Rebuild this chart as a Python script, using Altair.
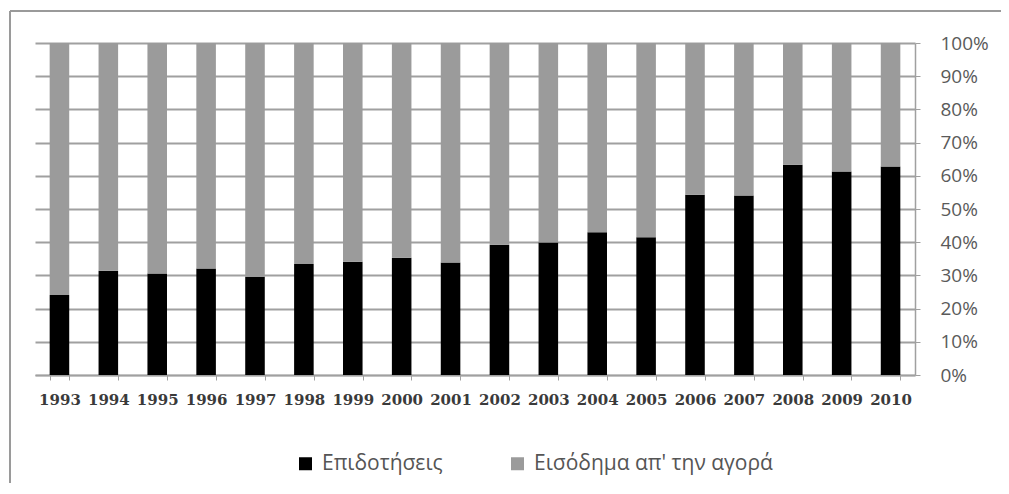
import altair as alt
import pandas as pd

years = ["1993", "1994", "1995", "1996", "1997", "1998", "1999", "2000", "2001",
         "2002", "2003", "2004", "2005", "2006", "2007", "2008", "2009", "2010"]
subsidies = [24.1, 31.4, 30.6, 32.1, 29.6, 33.4, 34.1, 35.3, 33.9,
             39.2, 39.9, 43.0, 41.5, 54.3, 54.1, 63.3, 61.3, 62.8]
market = [round(100 - s, 1) for s in subsidies]

series = ["Επιδοτήσεις", "Εισόδημα απ' την αγορά"]
colors = ["#000000", "#9b9b9b"]

rows = []
for y, s, m in zip(years, subsidies, market):
    rows.append({"year": y, "series": series[0], "value": s, "ord": 0})
    rows.append({"year": y, "series": series[1], "value": m, "ord": 1})
df = pd.DataFrame(rows)

bars = alt.Chart(df).mark_bar().encode(
    x=alt.X("year:N", sort=years,
            scale=alt.Scale(paddingInner=0.6, paddingOuter=0.3),
            axis=alt.Axis(title=None, labelAngle=0, labelFont="DejaVu Serif",
                          labelFontSize=15, labelFontWeight="bold",
                          labelColor="#3a3a3a",
                          domainColor="#a0a0a0", domainWidth=1.5,
                          tickColor="#a0a0a0", tickSize=5, tickBand="extent",
                          labelPadding=12, grid=False)),
    y=alt.Y("value:Q", stack="normalize",
            scale=alt.Scale(domain=[0, 1]),
            axis=alt.Axis(title=None, orient="right", format=".0%",
                          values=[0, 0.1, 0.2, 0.3, 0.4, 0.5, 0.6, 0.7, 0.8, 0.9, 1.0],
                          labelFont="Open Sans", labelFontSize=19,
                          labelColor="#5a5a5a", labelPadding=20,
                          domain=True, domainColor="#a0a0a0", domainWidth=1.5,
                          tickColor="#a0a0a0", tickSize=5,
                          grid=True, gridColor="#a0a0a0", gridWidth=2)),
    color=alt.Color("series:N", sort=series,
                    scale=alt.Scale(domain=series, range=colors),
                    legend=alt.Legend(title=None, orient="none", direction="horizontal",
                                      legendX=260, legendY=410,
                                      symbolType="square", symbolSize=169,
                                      symbolStrokeWidth=0,
                                      labelFont="Open Sans", labelFontSize=21,
                                      labelColor="#555555", labelOffset=6,
                                      labelLimit=0,
                                      columnPadding=64)),
    order=alt.Order("ord:Q", sort="ascending"),
)

frame_df = pd.DataFrame({"k": [0]})
frame_left = alt.Chart(frame_df).mark_rule(color="#9a9a9a", strokeWidth=2).encode(
    x=alt.value(-25), y=alt.value(-32), y2=alt.value(450))
frame_top = alt.Chart(frame_df).mark_rule(color="#9a9a9a", strokeWidth=2).encode(
    x=alt.value(-25), x2=alt.value(966), y=alt.value(-32))

chart = alt.layer(frame_left, frame_top, bars).properties(
    width=880, height=332,
    padding={"left": 27, "top": 35, "right": 86, "bottom": 108},
    autosize="none",
).configure_view(stroke=None)

chart.save("out.html", embed_options={"renderer": "svg", "actions": False})
